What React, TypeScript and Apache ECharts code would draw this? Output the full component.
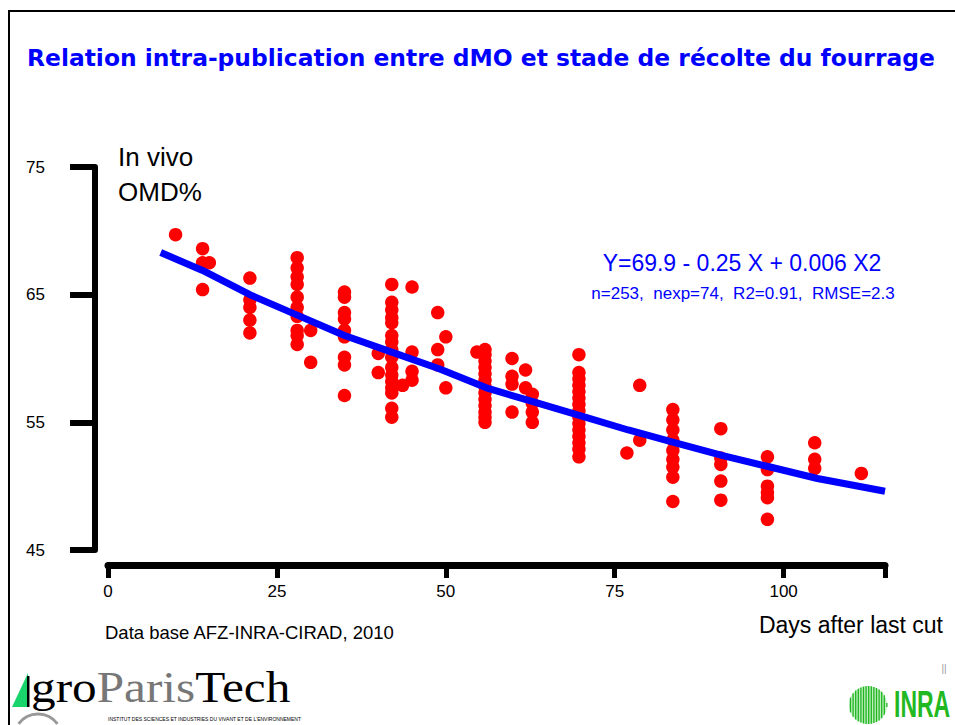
import React, { useEffect, useRef } from "react";
import * as echarts from "echarts";

// ---- data ----
const titleText = "Relation intra-publication entre dMO et stade de récolte du fourrage";
const xTicks = [0, 25, 50, 75, 100];
const yTicks = [45, 55, 65, 75];

// days after last cut of each observation column
const obsDays = [10, 14, 15, 21, 28, 30, 35, 40, 42, 43.6, 45, 48.8, 50, 54.6, 55.8, 59.8, 61.8, 62.8, 69.7, 76.8, 78.7, 83.6, 90.7, 97.6, 104.6, 111.5];
// in vivo OMD% values at each column
const obsOMD: number[][] = [
  [69.7],
  [68.6, 67.5, 65.4],
  [67.5],
  [66.3, 64.6, 64.0, 63.0, 62.0],
  [67.9, 67.1, 66.4, 65.8, 64.8, 64.0, 63.3, 62.2, 61.8, 61.1],
  [62.2, 59.7],
  [65.2, 64.8, 63.6, 63.1, 62.2, 61.7, 60.1, 59.5, 57.1],
  [60.4, 58.9],
  [65.8, 64.4, 63.8, 63.2, 62.8, 61.8, 61.3, 60.7, 60.1, 59.3, 58.7, 58.2, 57.7, 57.3, 56.1, 55.4],
  [57.9],
  [65.6, 60.5, 59.0, 58.3],
  [63.6, 60.7, 59.5],
  [61.7, 57.7],
  [60.5],
  [60.7, 60.3, 59.8, 59.3, 58.8, 58.3, 57.8, 57.3, 56.8, 56.3, 55.8, 55.4, 55.0],
  [60.0, 58.6, 58.0, 55.8],
  [59.1, 57.7],
  [57.2, 56.5, 55.8, 55.0],
  [60.3, 58.9, 58.4, 57.9, 57.4, 56.9, 56.4, 55.9, 55.4, 54.9, 54.4, 53.9, 53.4, 52.9, 52.3],
  [52.6],
  [57.9, 53.6],
  [56.0, 55.2, 54.4, 53.6, 52.8, 52.1, 51.5, 50.7, 48.8],
  [54.5, 52.2, 51.7, 50.4, 48.9],
  [52.3, 51.3, 50.0, 49.5, 49.1, 47.4],
  [53.4, 52.1, 51.4],
  [51.0],
];

// fitted curve as drawn
const fitDays = [7.8, 14, 21, 28, 35, 42, 49, 56, 63, 70, 77, 84, 91, 98, 105, 115];
const fitOMD = [68.3, 66.9, 65.0, 63.4, 61.8, 60.5, 59.2, 57.7, 56.6, 55.5, 54.4, 53.4, 52.4, 51.5, 50.6, 49.6];

const equationText = "Y=69.9 - 0.25 X + 0.006 X2";
const statsText = "n=253,  nexp=74,  R2=0.91,  RMSE=2.3";
const yAxisTitle = ["In vivo", "OMD%"];
const xAxisTitle = "Days after last cut";
const sourceText = "Data base AFZ-INRA-CIRAD, 2010";

const SANS = "'Liberation Sans', Arial, sans-serif";
const SERIF = "'Liberation Serif', 'Times New Roman', serif";

function txt(text: string, x: number, y: number, size: number, fill: string, align = "left", weight = "normal", family = SANS, extra: any = {}, styleExtra: any = {}) {
  return {
    type: "text",
    x,
    y,
    z: 10,
    ...extra,
    style: {
      text,
      fill,
      font: `${weight} ${size}px ${family}`,
      textAlign: align,
      align,
      textVerticalAlign: "middle",
      verticalAlign: "middle",
      ...styleExtra,
    },
  };
}

export default function App() {
  const ref = useRef<HTMLDivElement>(null);
  useEffect(() => {
    if (!ref.current) return;
    const chart = echarts.init(ref.current, null, { renderer: "svg" });

    const scatterData: number[][] = [];
    obsDays.forEach((d, i) => obsOMD[i].forEach((v) => scatterData.push([d, v])));
    const fitData = fitDays.map((d, i) => [d, fitOMD[i]]);

    // INRA logo stripes (decoration)
    const cx = 868, cy = 705, r = 19;
    const stripes: any[] = [];
    for (let sx = cx - r + 1.5; sx < cx + r; sx += 2.6) {
      const h = Math.sqrt(Math.max(0, r * r - (sx - cx) * (sx - cx)));
      stripes.push({ type: "line", z: 11, shape: { x1: sx, y1: cy - h, x2: sx, y2: cy + h }, style: { stroke: "#1fb51f", lineWidth: 1.3 } });
    }

    chart.setOption({
      animation: false,
      backgroundColor: "#ffffff",
      grid: { left: 108, top: 167, width: 777, height: 383, containLabel: false, outerBoundsMode: "none" },
      xAxis: {
        type: "value",
        min: 0,
        max: 115,
        interval: 25,
        offset: 15,
        splitLine: { show: false },
        axisLine: { show: true, onZero: false, lineStyle: { color: "#000", width: 7 } },
        axisTick: { show: true, length: 13, lineStyle: { color: "#000", width: 5 } },
        axisLabel: {
          show: true,
          color: "#000",
          fontSize: 17,
          fontFamily: SANS,
          margin: 18,
          formatter: (v: number) => (xTicks.includes(v) ? String(v) : ""),
        },
      },
      yAxis: {
        type: "value",
        min: 45,
        max: 75,
        interval: 10,
        offset: 13,
        splitLine: { show: false },
        axisLine: { show: true, onZero: false, lineStyle: { color: "#000", width: 6 } },
        axisTick: { show: true, length: 25, lineStyle: { color: "#000", width: 6 } },
        axisLabel: {
          show: true,
          color: "#000",
          fontSize: 17,
          fontFamily: SANS,
          margin: 50,
          formatter: (v: number) => (yTicks.includes(v) ? String(v) : ""),
        },
      },
      series: [
        {
          type: "scatter",
          data: scatterData,
          symbol: "circle",
          symbolSize: 13.5,
          itemStyle: { color: "#ff0000", opacity: 1 },
          z: 2,
        },
        {
          type: "line",
          data: fitData,
          showSymbol: false,
          smooth: false,
          lineStyle: { color: "#0000ff", width: 7 },
          z: 3,
        },
      ],
      graphic: [
        // frame
        { type: "line", z: 10, shape: { x1: 8, y1: 11, x2: 955, y2: 11 }, style: { stroke: "#000", lineWidth: 2 } },
        { type: "line", z: 10, shape: { x1: 9, y1: 10, x2: 9, y2: 725 }, style: { stroke: "#000", lineWidth: 2 } },
        txt(titleText, 27, 58, 23.4, "#0000ff", "left", "bold", "'DejaVu Sans', sans-serif"),
        txt(yAxisTitle[0], 118, 157, 26, "#000"),
        txt(yAxisTitle[1], 118, 192, 26, "#000"),
        txt(equationText, 742, 263, 23, "#0000ff", "center"),
        txt(statsText, 743, 293, 17, "#0000ff", "center"),
        txt(sourceText, 105, 632, 18.5, "#000"),
        txt(xAxisTitle, 943, 625, 23, "#000", "right"),
        txt("||", 944, 668, 10, "#999", "center"),
        // AgroParisTech logo
        { type: "rect", z: 9, shape: { x: 10, y: 668, width: 290, height: 57 }, style: { fill: "#fff" } },
        { type: "polygon", z: 11, shape: { points: [[12, 707], [28, 673], [29, 707]] }, style: { fill: "#19d36b" } },
        { type: "rect", z: 11, shape: { x: 27, y: 676, width: 2.5, height: 31 }, style: { fill: "#000" } },
        {
          type: "text", z: 11, x: 31, y: 707, scaleX: 1.12, scaleY: 1, originX: 0, originY: 0,
          style: {
            text: "{g|gro}{p|Paris}{t|Tech}",
            textAlign: "left", align: "left",
            textVerticalAlign: "bottom", verticalAlign: "bottom",
            rich: {
              g: { fill: "#000", font: `normal 44px ${SERIF}`, lineHeight: 40 },
              p: { fill: "#777", font: `normal 44px ${SERIF}`, lineHeight: 40 },
              t: { fill: "#000", font: `normal 44px ${SERIF}`, lineHeight: 40 },
            },
          },
        },
        txt("INSTITUT DES SCIENCES ET INDUSTRIES DU VIVANT ET DE L'ENVIRONNEMENT", 108, 719, 5, "#000"),
        { type: "arc", z: 11, shape: { cx: 38, cy: 738, r: 24, startAngle: Math.PI * 1.2, endAngle: Math.PI * 1.8 }, style: { stroke: "#999", lineWidth: 3, fill: "none" } },
        // INRA logo
        { type: "circle", z: 10, shape: { cx, cy, r }, style: { fill: "#bfeebf" } },
        ...stripes,
        txt("INRA", 894, 704, 23, "#22b822", "left", "bold", SANS, { scaleY: 1.6, originX: 0, originY: 0 }, { lineHeight: 20 }),
      ],
    });
    return () => chart.dispose();
  }, []);
  return <div ref={ref} style={{ position: "absolute", left: 0, top: 0, width: 955, height: 725 }} />;
}
